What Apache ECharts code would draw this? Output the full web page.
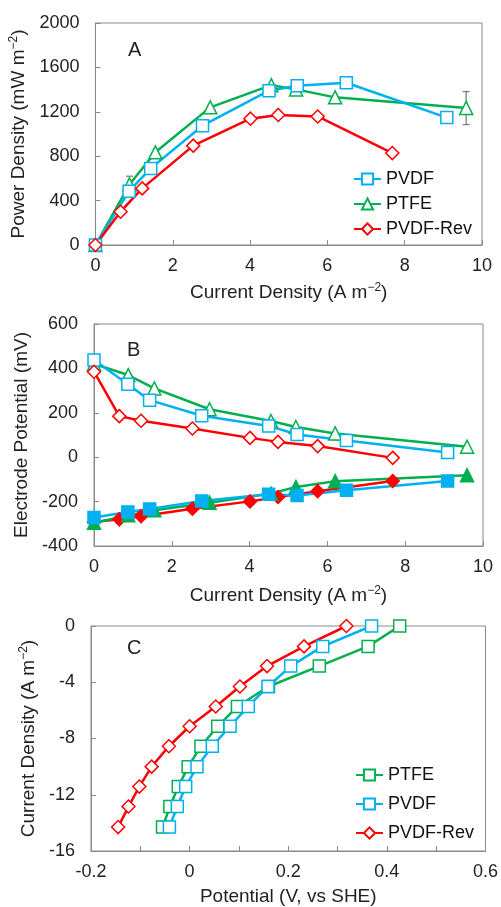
<!DOCTYPE html>
<html>
<head>
<meta charset="utf-8">
<script src="https://cdn.jsdelivr.net/npm/echarts@6/dist/echarts.min.js"></script>
<style>
html,body{margin:0;padding:0;background:#fff;}
#c{width:501px;height:907px;}
</style>
</head>
<body>
<div id="c"></div>
<script>
// ---- Data ----
// Current densities (A m^-2) for each electrode (shared by panels A and B)
const curPVDF = [0, 0.87, 1.43, 2.77, 4.49, 5.22, 6.49, 9.09];
const curPTFE = [0, 0.88, 1.55, 2.97, 4.55, 5.19, 6.2, 9.59];
const curREV  = [0, 0.65, 1.21, 2.53, 4.01, 4.73, 5.75, 7.68];
// Panel A: power density (mW m^-2)
const powPVDF = [0, 485, 690, 1075, 1390, 1435, 1462, 1148];
const powPTFE = [0, 545, 835, 1240, 1440, 1402, 1330, 1235];
const powREV  = [0, 300, 510, 895, 1138, 1172, 1158, 828];
// PTFE error bars [x, low, high]
const errPTFE = [[0.88, 480, 620], [9.59, 1085, 1382]];
// Panel B: electrode potentials (mV)
const cathPVDF = [438, 329, 257, 187, 141, 102, 75, 21];
const cathPTFE = [420, 370, 310, 216, 163, 136, 107, 47];
const cathREV  = [385, 185, 164, 129, 87, 69, 50, -3];
const anPVDF = [-272, -247, -233, -197, -167, -172, -149, -107];
const anPTFE = [-295, -262, -239, -205, -164, -134, -108, -81];
const anREV  = [-292, -280, -266, -232, -199, -179, -153, -107];
// Panel C: current density levels (A m^-2) and potentials (V vs SHE)
const cdC = [0, -1.45, -2.85, -4.3, -5.72, -7.13, -8.55, -10.0, -11.42, -12.84, -14.3];
const potPTFE = [0.426, 0.362, 0.263, 0.16, 0.097, 0.057, 0.023, -0.003, -0.023, -0.040, -0.055];
const potPVDF = [0.369, 0.27, 0.205, 0.159, 0.119, 0.082, 0.046, 0.015, -0.008, -0.025, -0.041];
const potREV  = [0.318, 0.232, 0.157, 0.102, 0.053, 0.0, -0.042, -0.077, -0.102, -0.124, -0.145];

// ---- Styles ----
const BLUE = '#00B0F0', GREEN = '#00B050', RED = '#FF0000';
const AX = '#898989';
const FONT = '"Liberation Sans", Arial, sans-serif';
const zip = (a, b) => a.map((v, i) => [v, b[i]]);

function lineSeries(name, xi, yi, xs, ys, color, symbol, size, filled) {
  return {
    type: 'line', name: name, xAxisIndex: xi, yAxisIndex: yi,
    data: zip(xs, ys), symbol: symbol, symbolSize: size,
    showAllSymbol: true, animation: false,
    lineStyle: {color: color, width: 2.5},
    itemStyle: {color: filled ? color : '#fff', borderColor: color, borderWidth: 1.5},
    emphasis: {disabled: true}
  };
}

const superRich = {
  a: {fontSize: 19, fontFamily: FONT, color: '#222'},
  s: {fontSize: 12, fontFamily: FONT, color: '#222', padding: [0, 0, 10, 0]}
};

function xAx(grid, min, max, interval, name, gap, fmt) {
  return {
    type: 'value', gridIndex: grid, min: min, max: max, interval: interval,
    name: name, nameLocation: 'middle', nameGap: gap,
    nameTextStyle: {fontSize: 19, fontFamily: FONT, color: '#222', rich: superRich},
    axisLine: {show: true, onZero: false, lineStyle: {color: AX, width: 1}},
    axisTick: {show: true, inside: true, length: 5, lineStyle: {color: AX}},
    axisLabel: {fontSize: 18, fontFamily: FONT, color: '#222', margin: 12, formatter: fmt || (v => String(v))},
    splitLine: {show: false}
  };
}
function yAx(grid, min, max, interval, name, gap) {
  return {
    type: 'value', gridIndex: grid, min: min, max: max, interval: interval,
    name: name, nameLocation: 'middle', nameGap: gap, nameRotate: 90,
    nameTextStyle: {fontSize: 19, fontFamily: FONT, color: '#222', rich: superRich},
    axisLine: {show: true, onZero: false, lineStyle: {color: AX, width: 1}},
    axisTick: {show: true, inside: true, length: 5, lineStyle: {color: AX}},
    axisLabel: {fontSize: 18, fontFamily: FONT, color: '#222', margin: 16, formatter: v => String(v)},
    splitLine: {show: false}
  };
}

const chart = echarts.init(document.getElementById('c'), null, {renderer: 'canvas'});

const option = {
  backgroundColor: '#fff',
  animation: false,
  grid: [
    {left: 94, right: 19, top: 23, height: 222, show: true, borderColor: AX, borderWidth: 1},
    {left: 94, right: 18, top: 324, height: 222, show: true, borderColor: AX, borderWidth: 1},
    {left: 91, right: 15, top: 626, height: 228, show: true, borderColor: AX, borderWidth: 1}
  ],
  xAxis: [
    xAx(0, 0, 10, 2, '{a|Current Density (A m}{s|−2}{a|)}', 37),
    xAx(1, 0, 10, 2, '{a|Current Density (A m}{s|−2}{a|)}', 39),
    xAx(2, -0.2, 0.6, 0.1, '{a|Potential (V, vs SHE)}', 36, function (v) {
      const r = Math.round(v * 10);
      if (r % 2) return '';
      if (r === 0) return '0';
      return String(r / 10);
    })
  ],
  yAxis: [
    yAx(0, 0, 2000, 400, '{a|Power Density (mW m}{s|−2}{a|)}', 60),
    yAx(1, -400, 600, 200, '{a|Electrode Potential (mV)}', 58),
    yAx(2, -16, 0, 4, '{a|Current Density (A m}{s|−2}{a|)}', 48)
  ],
  legend: [
    {
      orient: 'vertical', left: 353, top: 170, padding: 0, itemWidth: 27, itemHeight: 14, itemGap: 7,
      textStyle: {fontSize: 18, fontFamily: FONT, color: '#111'},
      data: ['PVDF', 'PTFE', 'PVDF-Rev'], selectedMode: false
    },
    {
      orient: 'vertical', left: 355, top: 766, padding: 0, itemWidth: 27, itemHeight: 14, itemGap: 11,
      textStyle: {fontSize: 18, fontFamily: FONT, color: '#111'},
      data: ['C:PTFE', 'C:PVDF', 'C:PVDF-Rev'], selectedMode: false,
      formatter: n => n.replace('C:', '')
    }
  ],
  graphic: [
    {type: 'text', left: 128, top: 40, style: {text: 'A', fontSize: 20, fontFamily: FONT, fill: '#222'}},
    {type: 'text', left: 127, top: 340, style: {text: 'B', fontSize: 20, fontFamily: FONT, fill: '#222'}},
    {type: 'text', left: 127, top: 638, style: {text: 'C', fontSize: 20, fontFamily: FONT, fill: '#222'}}
  ],
  series: [
    // Panel A
    {
      type: 'custom', name: 'errA', xAxisIndex: 0, yAxisIndex: 0, z: 1,
      data: errPTFE,
      renderItem: function (params, api) {
        const x = api.value(0);
        const lo = api.coord([x, api.value(1)]);
        const hi = api.coord([x, api.value(2)]);
        const w = 3.5;
        const st = {stroke: '#777', lineWidth: 1.2};
        return {type: 'group', children: [
          {type: 'line', shape: {x1: lo[0], y1: lo[1], x2: hi[0], y2: hi[1]}, style: st},
          {type: 'line', shape: {x1: lo[0] - w, y1: lo[1], x2: lo[0] + w, y2: lo[1]}, style: st},
          {type: 'line', shape: {x1: hi[0] - w, y1: hi[1], x2: hi[0] + w, y2: hi[1]}, style: st}
        ]};
      }
    },
    lineSeries('PTFE', 0, 0, curPTFE, powPTFE, GREEN, 'triangle', 13, false),
    lineSeries('PVDF', 0, 0, curPVDF, powPVDF, BLUE, 'rect', 12, false),
    lineSeries('PVDF-Rev', 0, 0, curREV, powREV, RED, 'diamond', 13, false),
    // Panel B
    lineSeries('B:PTFE-c', 1, 1, curPTFE, cathPTFE, GREEN, 'triangle', 13, false),
    lineSeries('B:PVDF-c', 1, 1, curPVDF, cathPVDF, BLUE, 'rect', 12, false),
    lineSeries('B:REV-c', 1, 1, curREV, cathREV, RED, 'diamond', 13, false),
    lineSeries('B:REV-a', 1, 1, curREV, anREV, RED, 'diamond', 13, true),
    lineSeries('B:PTFE-a', 1, 1, curPTFE, anPTFE, GREEN, 'triangle', 13, true),
    lineSeries('B:PVDF-a', 1, 1, curPVDF, anPVDF, BLUE, 'rect', 12, true),
    // Panel C
    lineSeries('C:PTFE', 2, 2, potPTFE, cdC, GREEN, 'rect', 12, false),
    lineSeries('C:PVDF', 2, 2, potPVDF, cdC, BLUE, 'rect', 12, false),
    lineSeries('C:PVDF-Rev', 2, 2, potREV, cdC, RED, 'diamond', 13, false)
  ]
};
chart.setOption(option);
</script>
</body>
</html>
